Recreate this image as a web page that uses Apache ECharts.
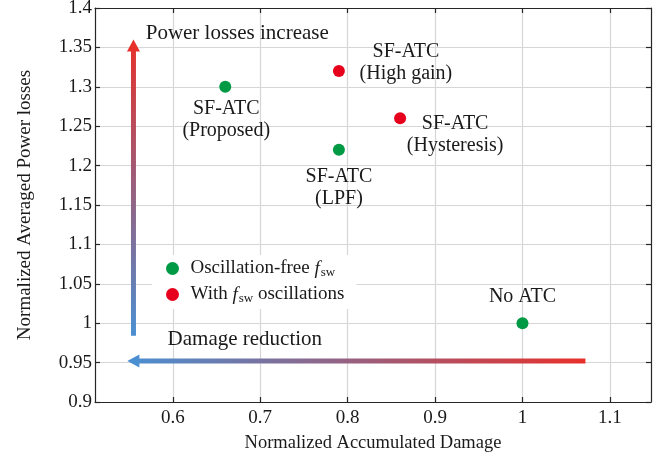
<!DOCTYPE html>
<html><head><meta charset="utf-8">
<script src="https://cdn.jsdelivr.net/npm/echarts@6/dist/echarts.min.js"></script>
<style>html,body{margin:0;padding:0;background:#fff}#c{width:657px;height:453px}</style>
</head><body><div id="c"></div>
<script>
// ---- data ----
const pointNames = ['SF-ATC\n(Proposed)', 'SF-ATC\n(High gain)', 'SF-ATC\n(Hysteresis)', 'SF-ATC\n(LPF)', 'No ATC'];
const damage = [0.66, 0.79, 0.86, 0.79, 1.00];
const losses = [1.30, 1.32, 1.26, 1.22, 1.00];
const oscillating = [false, true, true, false, false];
const seriesNames = ['Oscillation-free f_sw', 'With f_sw oscillations'];
const xTicks = [0.6, 0.7, 0.8, 0.9, 1.0, 1.1];
const yTicks = [0.9, 0.95, 1.0, 1.05, 1.1, 1.15, 1.2, 1.25, 1.3, 1.35, 1.4];
const xTitle = 'Normalized Accumulated Damage';
const yTitle = 'Normalized Averaged Power losses';
// arrows: [x0, y0] -> [x1, y1] in data units (tail -> tip)
const arrowLosses = [[0.555, 0.984], [0.555, 1.36]];
const arrowDamage = [[1.072, 0.952], [0.548, 0.952]];
const arrowTexts = ['Power losses increase', 'Damage reduction'];
const arrowTextAnchors = [[0.569, 1.368], [0.594, 0.979]];

// ---- layout / style ----
const FONT = 'Liberation Serif';
const labelOffsets = [[1, 33], [67, -8], [55, 16], [0, 38], [0, -26]];
const colors = ['#009a44', '#e6001c'];
const blue = '#4a8fd2', red = '#e8302a';

const groups = [[], []];
pointNames.forEach((n, i) => {
  groups[oscillating[i] ? 1 : 0].push({
    name: n, value: [damage[i], losses[i]],
    label: {offset: labelOffsets[i]}
  });
});

const chart = echarts.init(document.getElementById('c'));
const TXT = '#1a1a1a';

function axisCommon() {
  return {
    axisLine: {show: true, lineStyle: {color: '#262626', width: 1.2}},
    axisTick: {show: true, inside: true, length: 5, lineStyle: {color: '#262626', width: 1.2}},
    splitLine: {show: false},
  };
}

const option = {
  animation: false,
  grid: {left: 95, right: 6, top: 8, bottom: 51, containLabel: false, outerBoundsMode: 'none'},
  xAxis: [
    Object.assign(axisCommon(), {
      type: 'value', min: 0.511, max: 1.147,
      name: xTitle, nameLocation: 'middle', nameGap: 32,
      nameTextStyle: {fontFamily: FONT, fontSize: 18.5, color: TXT},
      axisLabel: {fontFamily: FONT, fontSize: 19, color: TXT, margin: 7,
        customValues: xTicks, formatter: v => String(+v.toFixed(2))},
      axisTick: {show: true, inside: true, length: 5, customValues: xTicks, lineStyle: {color: '#262626', width: 1.2}},
      splitLine: {show: true, lineStyle: {color: '#d6d6d6', width: 1.2}},
    }),
    Object.assign(axisCommon(), {
      type: 'value', position: 'top', min: 0.511, max: 1.147,
      axisLabel: {show: false, customValues: xTicks},
      axisTick: {show: true, inside: true, length: 5, customValues: xTicks, lineStyle: {color: '#262626', width: 1.2}},
    })
  ],
  yAxis: [
    Object.assign(axisCommon(), {
      type: 'value', min: 0.9, max: 1.4, interval: 0.05,
      name: yTitle, nameLocation: 'middle', nameGap: 60,
      nameTextStyle: {fontFamily: FONT, fontSize: 19, color: TXT},
      axisLabel: {fontFamily: FONT, fontSize: 19, color: TXT, margin: 3,
        formatter: v => String(+v.toFixed(2))},
      splitLine: {show: true, lineStyle: {color: '#d6d6d6', width: 1.2}},
    }),
    Object.assign(axisCommon(), {
      type: 'value', position: 'right', min: 0.9, max: 1.4, interval: 0.05,
      axisLabel: {show: false},
    })
  ],
  legend: {
    orient: 'vertical', left: 152, top: 255,
    padding: [4, 12, 4, 14], itemGap: 6,
    backgroundColor: '#fff', borderWidth: 0,
    itemWidth: 26, itemHeight: 13, icon: 'circle',
    data: seriesNames,
    formatter: function (name) {
      const parts = name.split('f_sw');
      return '{t|' + parts[0] + '}{i|f}{s|sw}{t|' + parts[1] + '}';
    },
    textStyle: {
      fontFamily: FONT, fontSize: 19, color: TXT,
      rich: {
        t: {fontFamily: FONT, fontSize: 19, color: TXT},
        i: {fontFamily: FONT, fontSize: 19, fontStyle: 'italic', color: TXT},
        s: {fontFamily: FONT, fontSize: 13, color: TXT, padding: [8, 0, 0, 1]}
      }
    }
  },
  series: [
    ...seriesNames.map((sn, k) => ({
      type: 'scatter', name: sn, xAxisIndex: 0, yAxisIndex: 0,
      symbol: 'circle', symbolSize: 12, z: 5,
      itemStyle: {color: colors[k], opacity: 1},
      data: groups[k],
      label: {show: true, position: 'inside', formatter: p => p.name,
        fontFamily: FONT, fontSize: 20, color: TXT, lineHeight: 22, align: 'center'}
    })),
    {
      type: 'custom', xAxisIndex: 0, yAxisIndex: 0, z: 4, silent: true,
      data: [0],
      renderItem: function (params, api) {
        const children = [];
        const arrows = [[arrowLosses, blue, red], [arrowDamage, red, blue]];
        arrows.forEach(([a, c0, c1]) => {
          const p0 = api.coord(a[0]), p1 = api.coord(a[1]);
          const dx = p1[0] - p0[0], dy = p1[1] - p0[1];
          const L = Math.hypot(dx, dy), ux = dx / L, uy = dy / L;
          const head = 12, hw = 6.5;
          const base = [p1[0] - ux * head, p1[1] - uy * head];
          const grad = new echarts.graphic.LinearGradient(p0[0], p0[1], p1[0], p1[1],
            [{offset: 0, color: c0}, {offset: 1, color: c1}], true);
          children.push({type: 'line', shape: {x1: p0[0], y1: p0[1], x2: base[0] + ux * 2, y2: base[1] + uy * 2},
            style: {stroke: grad, lineWidth: 5, lineCap: 'butt'}});
          children.push({type: 'polygon', shape: {points: [
            p1, [base[0] - uy * hw, base[1] + ux * hw], [base[0] + uy * hw, base[1] - ux * hw]]},
            style: {fill: c1}});
        });
        arrowTexts.forEach((t, i) => {
          const p = api.coord(arrowTextAnchors[i]);
          children.push({type: 'text', x: p[0], y: p[1],
            style: {text: t, fontFamily: FONT, fontSize: 21, fill: TXT,
              textAlign: 'left', textVerticalAlign: 'middle'}});
        });
        return {type: 'group', children: children};
      }
    }
  ]
};
chart.setOption(option);
</script></body></html>
